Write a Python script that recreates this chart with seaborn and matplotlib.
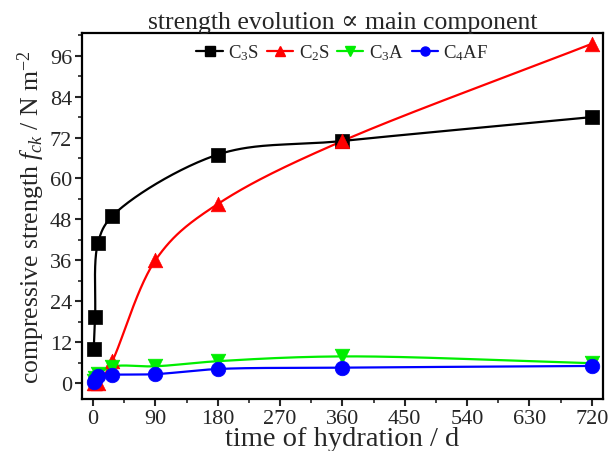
import numpy as np
import pandas as pd
import matplotlib
matplotlib.use("Agg")
import matplotlib.pyplot as plt
from matplotlib.lines import Line2D
from matplotlib.ticker import MultipleLocator
import seaborn as sns

# ---- data ----
c3s_days = [1, 3, 7, 28, 180, 360, 720]
c3s = [10, 19.5, 41, 49, 67, 71, 78]
c2s_days = [1, 3, 7, 28, 90, 180, 360, 720]
c2s = [0, 0, 0, 6.5, 36, 52.5, 71, 99.5]
c3a_days = [1, 3, 7, 28, 90, 180, 360, 720]
c3a = [0.5, 1.5, 2.5, 4.8, 4.9, 6.4, 7.8, 5.8]
c4af_days = [1, 3, 7, 28, 90, 180, 360, 720]
c4af = [0.3, 1.0, 2.0, 2.4, 2.6, 4.1, 4.5, 5.0]
labels = ["C$_3$S", "C$_2$S", "C$_3$A", "C$_4$AF"]
colors = ["#000000", "#ff0000", "#00ee00", "#0000ff"]
markers = ["s", "^", "v", "o"]
xticks = [0, 90, 180, 270, 360, 450, 540, 630, 720]
yticks = [0, 12, 24, 36, 48, 60, 72, 84, 96]

XLIM = (-16, 736)
YLIM = (-4.7, 102.7)


def catmull_rom(x, y, per=60, alpha=0.5):
    """Catmull-Rom curve through the points, in screen-like units."""
    sx = 521.0 / (XLIM[1] - XLIM[0]); sy = 366.0 / (YLIM[1] - YLIM[0])
    P = np.column_stack([np.asarray(x, float) * sx, np.asarray(y, float) * sy])
    P = np.vstack([2 * P[0] - P[1], P, 2 * P[-1] - P[-2]])
    out = []
    for i in range(1, len(P) - 2):
        p0, p1, p2, p3 = P[i - 1], P[i], P[i + 1], P[i + 2]
        t0 = 0.0
        t1 = t0 + max(np.linalg.norm(p1 - p0), 1e-6) ** alpha
        t2 = t1 + max(np.linalg.norm(p2 - p1), 1e-6) ** alpha
        t3 = t2 + max(np.linalg.norm(p3 - p2), 1e-6) ** alpha
        t = np.linspace(t1, t2, per)[:, None]
        A1 = (t1 - t) / (t1 - t0) * p0 + (t - t0) / (t1 - t0) * p1
        A2 = (t2 - t) / (t2 - t1) * p1 + (t - t1) / (t2 - t1) * p2
        A3 = (t3 - t) / (t3 - t2) * p2 + (t - t2) / (t3 - t2) * p3
        B1 = (t2 - t) / (t2 - t0) * A1 + (t - t0) / (t2 - t0) * A2
        B2 = (t3 - t) / (t3 - t1) * A2 + (t - t1) / (t3 - t1) * A3
        C = (t2 - t) / (t2 - t1) * B1 + (t - t1) / (t2 - t1) * B2
        out.append(C)
    C = np.vstack(out)
    return C[:, 0] / sx, C[:, 1] / sy


sns.set_style("ticks")
plt.rcParams['font.family'] = ['Liberation Serif', 'DejaVu Serif']
plt.rcParams['mathtext.fontset'] = 'custom'
plt.rcParams['mathtext.rm'] = 'Liberation Serif'
plt.rcParams['mathtext.it'] = 'Liberation Serif:italic'

fig = plt.figure(figsize=(6.09, 4.52), dpi=100)
ax = fig.add_axes([0.1346, 0.115, 0.8554, 0.81])

series = [(c3s_days, c3s), (c2s_days, c2s), (c3a_days, c3a), (c4af_days, c4af)]
alphas = [0.5, 0.2, 0.5, 0.5]
handles = []
msizes = [9.5, 10.5, 10.5, 10.5]
for (xd, yd), lab, col, mk, ms, al in zip(series, labels, colors, markers, msizes, alphas):
    xs, ys = catmull_rom(xd, yd, alpha=al)
    sns.lineplot(x=xs, y=ys, ax=ax, color=col, lw=1.6, sort=False, estimator=None)
    sns.scatterplot(x=xd, y=yd, ax=ax, color=col, marker=mk, s=ms**2,
                    edgecolor=col, linewidth=0.5, zorder=3)
    handles.append(Line2D([0], [0], color=col, lw=1.6, marker=mk, markersize=6.5,
                          markeredgecolor=col))

ax.set_xlim(*XLIM)
ax.set_ylim(*YLIM)
ax.set_xticks(xticks)
ax.set_yticks(yticks)
ax.xaxis.set_minor_locator(MultipleLocator(45))
ax.yaxis.set_minor_locator(MultipleLocator(6))
ax.tick_params(axis='both', which='major', direction='out', length=5, width=1.5,
               labelsize=16, top=False, right=False, pad=2)
ax.tick_params(axis='both', which='minor', direction='out', length=3, width=1.2,
               top=False, right=False)
for sp in ax.spines.values():
    sp.set_visible(True)
    sp.set_linewidth(1.6)
    sp.set_color('black')

ax.set_xlabel("time of hydration / d", fontsize=20.5, labelpad=-1)
ax.set_ylabel("compressive strength $f_{ck}$ / N m$^{-2}$", fontsize=18.5, labelpad=2)
ax.set_title("strength evolution \u221d main component", fontsize=18.5, pad=2)

ax.legend(handles, labels, loc='upper center', ncol=4, frameon=False,
          fontsize=13.5, handlelength=1.4, handletextpad=0.3, columnspacing=0.4,
          borderaxespad=0.1)

fig.savefig("out.png", dpi=100)
